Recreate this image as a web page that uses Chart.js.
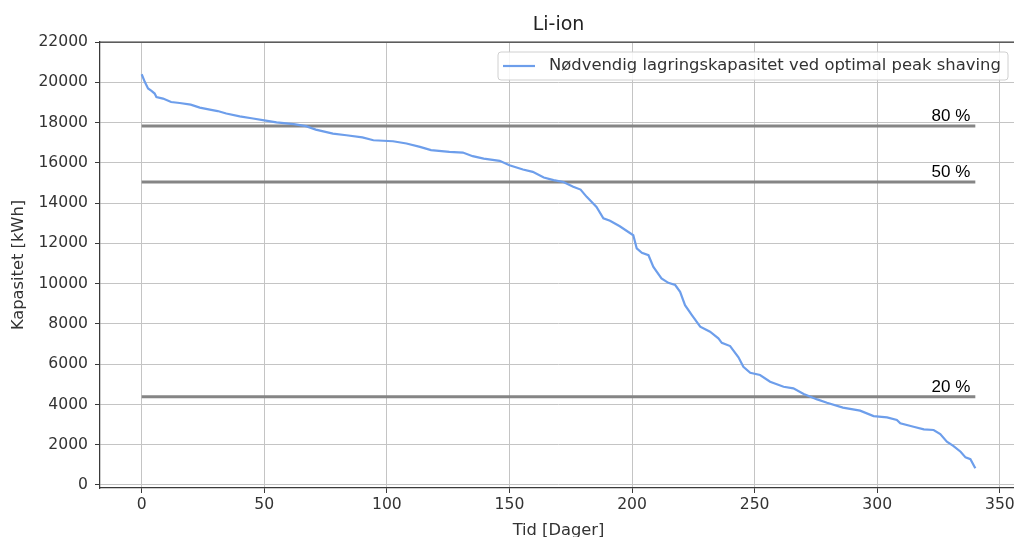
<!DOCTYPE html>
<html>
<head>
<meta charset="utf-8">
<script src="https://cdn.jsdelivr.net/npm/chart.js@4"></script>
<style>
  html, body { margin: 0; padding: 0; background: #fff; overflow: hidden; }
  #wrap { width: 1030px; height: 550px; position: relative; }
</style>
</head>
<body>
<div id="wrap"><canvas id="graf"></canvas></div>
<script>
// Li-ion: sorted daily storage need
const dager = [0, 1.3, 2.6, 4, 5.3, 6, 8.7, 12, 15.5, 20,
  23.7, 27.8, 31, 34.5, 40, 45.4, 50, 55, 62, 67,
  71, 78, 83.5, 90, 94.5, 102.5, 108, 113.5, 118, 125.5,
  131, 135, 139.5, 146, 150, 155.5, 159.5, 164, 168, 172,
  176, 179, 181.5, 185.5, 188.3, 191, 195, 200.5, 201.9, 204,
  206.7, 208.7, 212, 214.8, 217.6, 219.6, 221.6, 224.4, 227.8, 231.8,
  235.2, 236.6, 240, 243.4, 245.4, 248.2, 252.2, 256.3, 261.8, 265.8,
  270, 275.5, 279.5, 286, 293, 298.5, 304, 308, 309.4, 314.8,
  319, 323, 325.7, 328.4, 331, 334, 336, 338, 340];
const kapasitet = [20400, 20010, 19690, 19570, 19440, 19270, 19190, 19020, 18970, 18890,
  18740, 18640, 18570, 18450, 18310, 18200, 18110, 18010, 17920, 17820,
  17650, 17450, 17370, 17260, 17120, 17070, 16960, 16790, 16630, 16540,
  16510, 16330, 16210, 16100, 15880, 15670, 15550, 15270, 15140, 15050,
  14810, 14670, 14310, 13810, 13240, 13120, 12850, 12400, 11750, 11530,
  11410, 10830, 10260, 10040, 9930, 9590, 8930, 8440, 7860, 7610,
  7280, 7060, 6900, 6340, 5870, 5570, 5460, 5130, 4880, 4800,
  4520, 4250, 4080, 3840, 3690, 3420, 3360, 3230, 3060, 2890,
  2760, 2730, 2530, 2150, 1940, 1650, 1370, 1280, 830];

// horizontal reference levels
const nivaaTekst = ['80 %', '50 %', '20 %'];
const nivaaVerdi = [17830, 15050, 4380];
const nivaaStart = 0;
const nivaaSlutt = 340;

// tick values
const xTicks = [0, 50, 100, 150, 200, 250, 300, 350];
const yTicks = [0, 2000, 4000, 6000, 8000, 10000, 12000, 14000, 16000, 18000, 20000, 22000];

const tittel = 'Li-ion';
const serieNavn = 'Nødvendig lagringskapasitet ved optimal peak shaving';

const datasets = [{
  label: serieNavn,
  data: dager.map((d, i) => ({ x: d, y: kapasitet[i] })),
  borderColor: '#6d9eeb',
  borderWidth: 2.2,
  pointRadius: 0,
  tension: 0,
  order: 0
}];
nivaaVerdi.forEach((v, i) => {
  datasets.push({
    label: nivaaTekst[i],
    data: [{ x: nivaaStart, y: v }, { x: nivaaSlutt, y: v }],
    borderColor: '#858585',
    borderWidth: 3,
    pointRadius: 0,
    order: 1,
    nivaa: true
  });
});

const tegnEkstra = {
  id: 'tegnEkstra',
  afterDraw(chart) {
    const { ctx, chartArea: a } = chart;
    ctx.save();
    // top spine
    ctx.strokeStyle = '#3a3a3a';
    ctx.lineWidth = 1.25;
    ctx.beginPath();
    ctx.moveTo(a.left, a.top);
    ctx.lineTo(a.right, a.top);
    ctx.stroke();

    // title
    ctx.fillStyle = '#222';
    ctx.font = '19px "DejaVu Sans"';
    ctx.textAlign = 'center';
    ctx.textBaseline = 'middle';
    ctx.fillText(tittel, (a.left + a.right) / 2, 25);

    // level labels
    ctx.font = '17px "Liberation Sans"';
    ctx.fillStyle = '#000';
    ctx.textAlign = 'right';
    ctx.textBaseline = 'alphabetic';
    chart.data.datasets.forEach((ds, i) => {
      if (!ds.nivaa) return;
      const meta = chart.getDatasetMeta(i);
      const p = meta.data[meta.data.length - 1];
      ctx.fillText(ds.label, p.x - 5, p.y - 5);
    });

    // legend box
    const bx = 498, by = a.top + 10, bw = a.right - 9 - 498, bh = 28;
    ctx.fillStyle = 'rgba(255,255,255,0.85)';
    ctx.strokeStyle = '#d0d0d0';
    ctx.lineWidth = 1;
    ctx.beginPath();
    ctx.roundRect(bx, by, bw, bh, 3);
    ctx.fill();
    ctx.stroke();
    const ds0 = chart.data.datasets[0];
    ctx.strokeStyle = ds0.borderColor;
    ctx.lineWidth = 2.2;
    ctx.beginPath();
    ctx.moveTo(bx + 5, by + bh / 2);
    ctx.lineTo(bx + 37, by + bh / 2);
    ctx.stroke();
    ctx.fillStyle = '#333';
    ctx.font = '16.4px "DejaVu Sans"';
    ctx.textAlign = 'left';
    ctx.textBaseline = 'middle';
    ctx.fillText(ds0.label, bx + 51, by + bh / 2);
    ctx.restore();
  }
};

new Chart(document.getElementById('graf').getContext('2d'), {
  type: 'line',
  data: { datasets },
  options: {
    responsive: true,
    maintainAspectRatio: false,
    animation: false,
    layout: { padding: { top: 42, right: 13, left: 0, bottom: 0 } },
    plugins: {
      legend: { display: false },
      title: { display: false },
      tooltip: { enabled: false }
    },
    scales: {
      x: {
        type: 'linear',
        min: -17,
        max: 357,
        afterFit: s => { s.height = 62; },
        afterBuildTicks: s => { s.ticks = xTicks.map(v => ({ value: v })); },
        ticks: {
          padding: 3,
          color: '#333',
          font: { family: 'DejaVu Sans', size: 15.6 },
          maxRotation: 0,
          callback: v => String(v)
        },
        grid: { color: '#c4c4c4', lineWidth: 1, tickLength: 5, tickColor: '#3a3a3a' },
        border: { color: '#3a3a3a', width: 1.25 },
        title: {
          display: true,
          text: 'Tid [Dager]',
          color: '#333',
          font: { family: 'DejaVu Sans', size: 16.3 },
          padding: { top: 0, bottom: 9 }
        }
      },
      y: {
        min: -150,
        max: 22000,
        afterFit: s => { s.width = 100; },
        afterBuildTicks: s => { s.ticks = yTicks.map(v => ({ value: v })); },
        ticks: {
          padding: 7,
          color: '#333',
          font: { family: 'DejaVu Sans', size: 15.6 },
          callback: v => String(v)
        },
        grid: { color: '#c4c4c4', lineWidth: 1, tickLength: 5, tickColor: '#3a3a3a' },
        border: { color: '#3a3a3a', width: 1.25 },
        title: {
          display: true,
          text: 'Kapasitet [kWh]',
          color: '#333',
          font: { family: 'DejaVu Sans', size: 16.3 },
          padding: { top: 9, bottom: 0 }
        }
      }
    }
  },
  plugins: [tegnEkstra]
});
</script>
</body>
</html>
